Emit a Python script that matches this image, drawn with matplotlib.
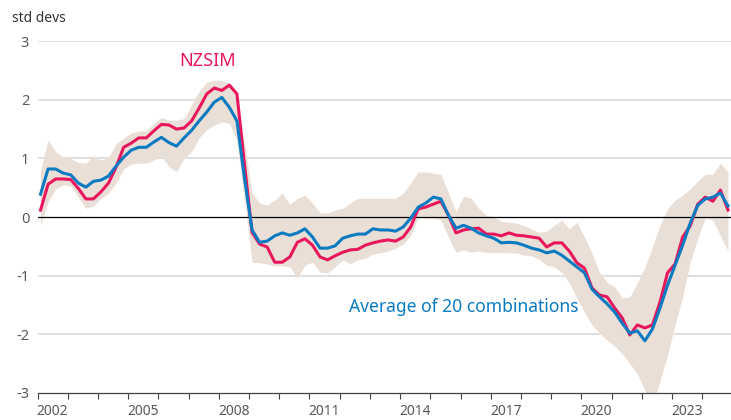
import matplotlib
matplotlib.use('Agg')
from matplotlib import pyplot as plt
import numpy as np

plt.rcParams['font.family'] = ['Noto Sans', 'DejaVu Sans']

# quarterly data, 2002Q1 - 2024Q4 (std devs)
nzsim = [0.12, 0.56, 0.65, 0.65, 0.64, 0.49, 0.31, 0.31, 0.43, 0.58,
         0.85, 1.19, 1.26, 1.35, 1.35, 1.47, 1.58, 1.57, 1.50, 1.52,
         1.64, 1.86, 2.10, 2.20, 2.16, 2.25, 2.10, 0.90, -0.26, -0.46,
         -0.51, -0.77, -0.77, -0.68, -0.43, -0.37, -0.48, -0.68, -0.73, -0.66,
         -0.60, -0.56, -0.55, -0.48, -0.44, -0.41, -0.39, -0.41, -0.34, -0.17,
         0.14, 0.17, 0.22, 0.27, 0.03, -0.27, -0.22, -0.20, -0.19, -0.29,
         -0.29, -0.32, -0.27, -0.31, -0.32, -0.34, -0.36, -0.51, -0.44, -0.44,
         -0.58, -0.78, -0.87, -1.21, -1.33, -1.36, -1.55, -1.72, -2.01, -1.84,
         -1.89, -1.84, -1.45, -0.95, -0.80, -0.34, -0.15, 0.22, 0.34, 0.27,
         0.46, 0.12]

average = [0.39, 0.82, 0.82, 0.75, 0.72, 0.58, 0.51, 0.61, 0.63, 0.70,
           0.87, 1.02, 1.14, 1.19, 1.19, 1.28, 1.36, 1.27, 1.21, 1.35,
           1.48, 1.64, 1.79, 1.96, 2.04, 1.87, 1.64, 0.66, -0.22, -0.43,
           -0.41, -0.32, -0.27, -0.31, -0.27, -0.20, -0.34, -0.53, -0.53, -0.49,
           -0.36, -0.32, -0.29, -0.29, -0.20, -0.22, -0.22, -0.24, -0.17, -0.02,
           0.17, 0.24, 0.34, 0.31, 0.03, -0.19, -0.14, -0.19, -0.27, -0.32,
           -0.36, -0.44, -0.43, -0.44, -0.48, -0.53, -0.56, -0.61, -0.58, -0.65,
           -0.75, -0.85, -0.95, -1.23, -1.36, -1.48, -1.62, -1.81, -1.98, -1.94,
           -2.11, -1.91, -1.55, -1.16, -0.82, -0.48, -0.10, 0.20, 0.31, 0.34,
           0.41, 0.19]

band_hi = [0.80, 1.31, 1.12, 1.02, 1.00, 0.93, 0.92, 1.05, 0.97, 1.02,
           1.25, 1.35, 1.43, 1.47, 1.47, 1.60, 1.70, 1.65, 1.65, 1.68,
           1.92, 2.15, 2.30, 2.33, 2.33, 2.28, 2.11, 1.25, 0.41, 0.24,
           0.20, 0.29, 0.41, 0.22, 0.32, 0.37, 0.24, 0.07, 0.07, 0.12,
           0.15, 0.24, 0.32, 0.32, 0.32, 0.32, 0.32, 0.32, 0.41, 0.58,
           0.77, 0.77, 0.75, 0.73, 0.41, 0.09, 0.36, 0.32, 0.15, 0.03,
           0.00, -0.07, -0.09, -0.10, -0.15, -0.20, -0.26, -0.24, -0.14, -0.05,
           -0.20, -0.09, -0.34, -0.62, -0.94, -1.11, -1.19, -1.38, -1.36, -1.12,
           -0.85, -0.51, -0.14, 0.14, 0.29, 0.37, 0.48, 0.61, 0.73, 0.73,
           0.92, 0.77]

band_lo = [-0.15, 0.26, 0.48, 0.55, 0.53, 0.34, 0.15, 0.19, 0.32, 0.41,
           0.58, 0.82, 0.90, 0.92, 0.92, 0.97, 1.04, 0.86, 0.77, 1.00,
           1.12, 1.35, 1.49, 1.57, 1.62, 1.60, 1.31, 0.30, -0.77, -0.78,
           -0.80, -0.83, -0.83, -0.85, -1.04, -0.82, -0.77, -0.94, -0.95, -0.85,
           -0.73, -0.80, -0.73, -0.70, -0.63, -0.61, -0.58, -0.53, -0.46, -0.31,
           0.00, -0.02, -0.02, -0.05, -0.34, -0.60, -0.56, -0.60, -0.58, -0.60,
           -0.61, -0.60, -0.61, -0.61, -0.65, -0.66, -0.72, -0.82, -0.85, -0.94,
           -1.12, -1.38, -1.62, -1.84, -1.98, -2.10, -2.20, -2.33, -2.50, -2.67,
           -2.95, -3.20, -2.80, -2.35, -1.84, -1.36, -0.77, -0.36, -0.02, -0.05,
           -0.32, -0.58]

x = 2002.1 + 0.25 * np.arange(len(nzsim))

red = '#e8175d'
blue = '#0b7bc1'

fig = plt.figure(figsize=(7.31, 4.2), dpi=100)
ax = fig.add_axes([0.0513, 0.0643, 0.9487, 0.8377])

ax.fill_between(x, band_lo, band_hi, color='#eadfd7', linewidth=0, zorder=1)
for v in [3, 2, 1, -1, -2]:
    ax.axhline(v, color='#dcdcdc', linewidth=1.3, zorder=0.5)
ax.axhline(0, color='black', linewidth=0.9, zorder=2)
ax.plot(x, nzsim, color=red, linewidth=2.2, zorder=3)
ax.plot(x, average, color=blue, linewidth=2.2, zorder=4)

ax.set_xlim(2002, 2024.95)
ax.set_ylim(-3, 3)

# year ticks at boundaries, labels centred in the year
ax.set_xticks(np.arange(2002, 2025))
ax.set_xticklabels([])
ax.set_xticks(np.arange(2002, 2024, 3) + 0.5, minor=True)
ax.set_xticklabels([str(y) for y in range(2002, 2024, 3)], minor=True)
ax.tick_params(axis='x', which='major', length=4, color='#404040', width=0.8)
ax.tick_params(axis='x', which='minor', length=0, pad=8, labelsize=10, labelcolor='#595959')
ax.set_yticks([3, 2, 1, 0, -1, -2, -3])
ax.set_yticklabels(['3', '2', '1', '0', '-1', '-2', '-3'])
ax.tick_params(axis='y', length=0, pad=6, labelsize=10.5, labelcolor='#595959')

for s in ['top', 'right', 'left']:
    ax.spines[s].set_visible(False)
ax.spines['bottom'].set_color('#404040')
ax.spines['bottom'].set_linewidth(0.9)

fig.text(12 / 731, 1 - 18 / 420, 'std devs', fontsize=10, color='#333333', va='center', ha='left')
ax.text(2007.63, 2.67, 'NZSIM', color=red, fontsize=13, ha='center', va='center')
ax.text(2016.11, -1.53, 'Average of 20 combinations', color=blue, fontsize=12.6, ha='center', va='center')

fig.savefig('out.png', dpi=100)
